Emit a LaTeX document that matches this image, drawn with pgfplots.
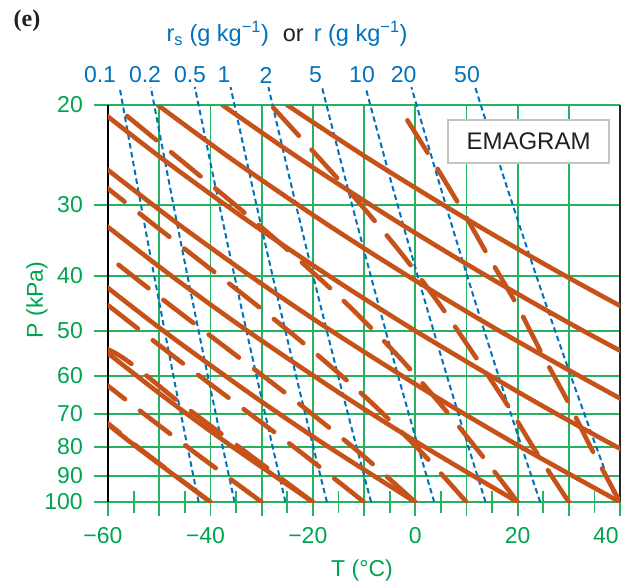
\documentclass[border=0pt]{standalone}
\usepackage{fontspec}
\setmainfont{Liberation Sans}
\newfontfamily\panelfont{Liberation Serif}
\usepackage{pgfplots}
\pgfplotsset{compat=1.18}

\definecolor{emagreen}{RGB}{0,163,80}
\definecolor{gridgreen}{RGB}{38,178,96}
\definecolor{adiabat}{RGB}{198,82,26}
\definecolor{isohume}{RGB}{0,114,188}
\definecolor{boxgray}{RGB}{196,196,196}
\definecolor{inkdark}{RGB}{35,31,32}

\newcommand{\sz}{\fontsize{23}{27}\selectfont}

\pgfplotsset{
  dry/.style={adiabat, line width=4.6pt, line cap=round, no markers, smooth},
  moist/.style={adiabat, line width=4.6pt, line cap=round, no markers, smooth,
    dash pattern=on 38pt off 19pt},
  humid/.style={isohume, line width=2pt, no markers, smooth,
    dash pattern=on 5.5pt off 3.5pt},
}

\begin{document}
\begin{tikzpicture}
\useasboundingbox (0,0) rectangle (621pt,585pt);
% isotherms, isobars and lines of constant mixing ratio
\begin{axis}[
  at={(108pt,83pt)}, anchor=south west,
  scale only axis, width=512pt, height=397pt,
  xmin=-60, xmax=40, ymin=20, ymax=100,
  ymode=log, y dir=reverse,
  clip=false,
  axis line style={draw=none},
  tick pos=left, tick align=outside, major tick length=14pt,
  xtick={-60,-50,-40,-30,-20,-10,0,10,20,30,40},
  xticklabels={\hspace*{-10pt}−60,,\hspace*{-10pt}−40,,\hspace*{-10pt}−20,,0,,20,,40\hspace*{28pt}},
  ytick={20,30,40,50,60,70,80,90,100},
  yticklabels={20,30,40,50,60,70,80,90,100},
  grid=major,
  major grid style={gridgreen, line width=1.8pt},
  tick style={gridgreen, line width=1.8pt},
  xticklabel style={font=\sz, text=emagreen, inner sep=3pt, yshift=-8pt},
  yticklabel style={font=\sz, text=emagreen, inner sep=3pt, xshift=-8pt},
]
% r = 0.1 g/kg
\addplot[humid] coordinates {(-42.30,100)(-44.47,80)(-47.22,60)(-49.89,45)(-52.18,35)(-54.49,27)(-57.11,20)(-57.73,18.6)};
% r = 0.2 g/kg
\addplot[humid] coordinates {(-35.29,100)(-37.59,80)(-40.50,60)(-43.33,45)(-45.76,35)(-48.20,27)(-50.97,20)(-51.63,18.6)};
% r = 0.5 g/kg
\addplot[humid] coordinates {(-25.34,100)(-27.84,80)(-30.99,60)(-34.06,45)(-36.68,35)(-39.33,27)(-42.32,20)(-43.03,18.6)};
% r = 1 g/kg
\addplot[humid] coordinates {(-17.24,100)(-19.90,80)(-23.26,60)(-26.53,45)(-29.32,35)(-32.13,27)(-35.30,20)(-36.06,18.6)};
% r = 2 g/kg
\addplot[humid] coordinates {(-8.61,100)(-11.45,80)(-15.04,60)(-18.52,45)(-21.49,35)(-24.49,27)(-27.86,20)(-28.67,18.6)};
% r = 5 g/kg
\addplot[humid] coordinates {(3.71,100)(0.59,80)(-3.33,60)(-7.14,45)(-10.38,35)(-13.64,27)(-17.32,20)(-18.19,18.6)};
% r = 10 g/kg
\addplot[humid] coordinates {(13.74,100)(10.40,80)(6.20,60)(2.12,45)(-1.35,35)(-4.84,27)(-8.77,20)(-9.70,18.6)};
% r = 20 g/kg
\addplot[humid] coordinates {(24.41,100)(20.81,80)(16.29,60)(11.92,45)(8.20,35)(4.47,27)(0.26,20)(-0.74,18.6)};
% r = 50 g/kg
\addplot[humid] coordinates {(39.33,100)(35.37,80)(30.40,60)(25.59,45)(21.51,35)(17.41,27)(12.81,20)(11.72,18.6)};
\end{axis}

% minor temperature ticks across the 100 kPa line
\begin{axis}[
  at={(108pt,83pt)}, anchor=south west,
  scale only axis, width=512pt, height=397pt,
  xmin=-60, xmax=40, ymin=20, ymax=100,
  axis line style={draw=none},
  xtick={-55,-45,-35,-25,-15,-5,5,15,25,35},
  xticklabels={}, ytick=\empty,
  xtick pos=bottom, tick align=center, major tick length=22pt,
  tick style={gridgreen, line width=1.8pt},
]
\end{axis}

% left and right borders
\draw[black, line width=1.3pt] (108pt,83pt) -- (108pt,480pt);
\draw[black!85, line width=1.3pt] (620pt,83pt) -- (620pt,480pt);

% dry and moist adiabats
\begin{axis}[
  at={(108pt,83pt)}, anchor=south west,
  scale only axis, width=512pt, height=397pt,
  xmin=-60, xmax=40, ymin=20, ymax=100,
  ymode=log, y dir=reverse,
  hide axis,
]
% dry adiabats, theta = 233.15 K ... 393.15 K every 20 K
\addplot[dry] coordinates {(-40.00,100)(-54.42,80)(-67.03,65)};
\addplot[dry] coordinates {(-20.00,100)(-35.65,80)(-49.35,65)(-65.52,50)};
\addplot[dry] coordinates {(0.00,100)(-16.89,80)(-31.66,65)(-49.12,50)(-62.97,40)};
\addplot[dry] coordinates {(20.00,100)(1.87,80)(-13.98,65)(-32.72,50)(-47.58,40)(-61.52,32)};
\addplot[dry] coordinates {(40.00,100)(20.64,80)(3.70,65)(-16.31,50)(-32.19,40)(-47.09,32)(-62.49,25)};
\addplot[dry] coordinates {(60.00,100)(39.40,80)(21.38,65)(0.09,50)(-16.80,40)(-32.65,32)(-49.04,25)(-62.90,20)};
\addplot[dry] coordinates {(58.17,80)(39.06,65)(16.49,50)(-1.41,40)(-18.21,32)(-35.59,25)(-50.28,20)};
\addplot[dry] coordinates {(76.93,80)(56.75,65)(32.90,50)(13.98,40)(-3.77,32)(-22.13,25)(-37.66,20)};
\addplot[dry] coordinates {(74.43,65)(49.30,50)(29.37,40)(10.67,32)(-8.68,25)(-25.03,20)};
% saturated (moist) adiabats from 100 kPa
\addplot[moist] coordinates {(40,100)(34.4,80.5)(29.8,66.5)(24.6,54.5)(19.8,44.9)(14.2,36.8)(8.7,30.1)(2.9,24.66)(-3.4,20)};
\addplot[moist] coordinates {(30,100)(23.7,81.87)(17.8,67.03)(11.4,54.88)(4.8,44.93)(-2.4,36.79)(-10.4,30.12)(-19.0,24.66)(-28.2,20)};
\addplot[moist] coordinates {(20,100)(12.6,81.87)(4.8,67.03)(-3.7,54.88)(-13.2,44.93)(-23.7,36.79)(-34.9,30.12)(-46.6,24.66)(-58.9,20)};
\addplot[moist] coordinates {(10,100)(1.3,81.87)(-8.4,67.03)(-19.3,54.88)(-31.1,44.93)(-43.4,36.79)(-55.7,30.12)(-61.8,27.25)};
\addplot[moist] coordinates {(0,100)(-10.87,81.87)(-22.77,67.03)(-35.33,54.88)(-47.99,44.93)(-60.29,36.79)};
\addplot[moist] coordinates {(-10,100)(-22.24,81.87)(-35.01,67.03)(-47.78,54.88)(-60.13,44.93)};
\addplot[moist] coordinates {(-20,100)(-32.92,81.87)(-45.80,67.03)(-58.25,54.88)(-70.50,49.66)};
\addplot[moist] coordinates {(-30,100)(-43.02,81.87)(-55.63,67.03)(-67.90,54.88)};
\addplot[moist] coordinates {(-40,100)(-52.76,81.87)(-64.96,67.03)};
\end{axis}

% diagram name
\node[draw=boxgray, line width=2.6pt, fill=white, minimum width=161pt, minimum height=43pt,
      font=\fontsize{24}{28}\selectfont, text=inkdark] at (528.5pt,443.5pt) {EMAGRAM};

% panel letter, header and isohume labels
\node[text=inkdark, inner sep=0pt] at (27pt,564pt) {\panelfont\bfseries\fontsize{24}{28}\selectfont (e)};
\node[font=\fontsize{23.5}{28}\selectfont, text=inkdark] at (287pt,551pt)
  {\textcolor{isohume}{r\textsubscript{s} (g kg\textsuperscript{−1})}\hspace{14pt}or\hspace{10pt}\textcolor{isohume}{r (g kg\textsuperscript{−1})}};
\foreach \lab/\xx in {0.1/100,0.2/145,0.5/190,1/224,2/266,5/315.5,10/362,20/403.6,50/467}
  \node[font=\sz, text=isohume] at (\xx pt,510pt) {\lab};

% axis titles
\node[font=\sz, text=emagreen, rotate=90] at (37pt,285pt) {P (kPa)};
\node[font=\sz, text=emagreen] at (362pt,14pt) {T (°C)};
\end{tikzpicture}
\end{document}
